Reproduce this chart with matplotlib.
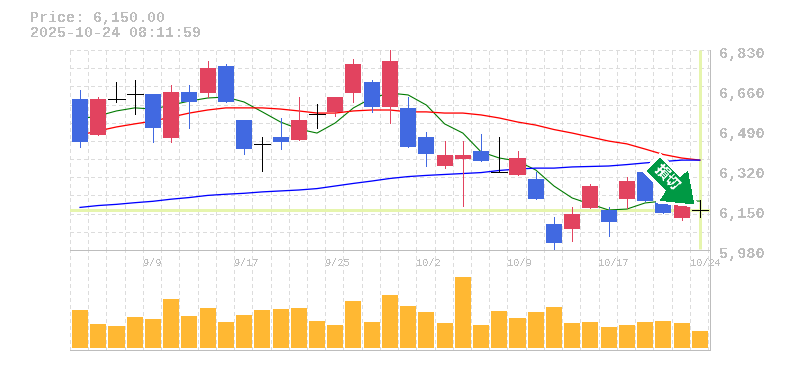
import matplotlib
matplotlib.use('Agg')
import matplotlib.pyplot as plt
from matplotlib.patches import Polygon
from matplotlib.transforms import Affine2D
import numpy as np

W, H = 785, 370

opens = [6622, 6469, 6620, 6642, 6643, 6456, 6651, 6647, 6762, 6532, 6429, 6460, 6447, 6559, 6567, 6647, 6694, 6588,
         6584, 6460, 6337, 6367, 6401, 6311, 6299, 6282, 6090, 6069, 6159, 6150, 6197, 6311, 6184, 6116, 6150]
highs = [6660, 6630, 6694, 6703, 6643, 6681, 6681, 6783, 6770, 6532, 6460, 6541, 6630, 6601, 6630, 6792, 6703, 6830,
         6630, 6481, 6443, 6443, 6473, 6460, 6401, 6311, 6120, 6163, 6260, 6163, 6290, 6311, 6184, 6171, 6192]
lows = [6418, 6469, 6609, 6558, 6439, 6439, 6498, 6630, 6609, 6388, 6316, 6409, 6447, 6498, 6550, 6609, 6567, 6520,
        6418, 6337, 6328, 6167, 6358, 6311, 6299, 6197, 5980, 6018, 6159, 6040, 6159, 6188, 6137, 6107, 6120]
closes = [6439, 6622, 6620, 6642, 6498, 6651, 6609, 6753, 6609, 6409, 6429, 6439, 6532, 6559, 6630, 6770, 6588, 6783,
          6418, 6388, 6384, 6384, 6358, 6311, 6371, 6197, 6010, 6133, 6252, 6099, 6273, 6188, 6137, 6171, 6150]

ma_short = [6537, 6550, 6571, 6584, 6579, 6596, 6613, 6626, 6630, 6609, 6567, 6524, 6494, 6477, 6520, 6584, 6626, 6647,
            6639, 6596, 6516, 6477, 6397, 6371, 6358, 6320, 6252, 6201, 6175, 6150, 6154, 6180, 6188, 6188, 6188]
ma_mid = [6469, 6486, 6503, 6516, 6528, 6545, 6562, 6575, 6584, 6584, 6584, 6579, 6571, 6562, 6562, 6571, 6575, 6575,
          6567, 6567, 6562, 6562, 6554, 6541, 6524, 6511, 6492, 6477, 6460, 6443, 6431, 6409, 6386, 6371, 6362]
ma_long = [6161, 6169, 6174, 6181, 6187, 6196, 6203, 6212, 6217, 6221, 6227, 6231, 6235, 6241, 6252, 6263, 6273, 6284,
           6292, 6297, 6301, 6305, 6309, 6318, 6324, 6328, 6328, 6333, 6335, 6337, 6343, 6350, 6356, 6362, 6362]
volumes = [38, 24, 22, 31, 29, 49, 32, 40, 26, 33, 38, 39, 40, 27, 23, 47, 26, 53,
           42, 36, 25, 71, 23, 37, 30, 36, 41, 25, 26, 21, 23, 26, 27, 25, 17]

price_ticks = [6830, 6660, 6490, 6320, 6150, 5980]
date_idx = [4, 9, 14, 19, 24, 29, 34]
date_labels = ['9/9', '9/17', '9/25', '10/2', '10/9', '10/17', '10/24']
last_price = 6150
arrow_text = '損切'

RED = '#e2435f'
BLUE = '#4169e1'
GRID = '#dcdcdc'
BORDER = '#bdbdbd'
TEXT = '#bdbdbd'
MARK = '#e6f5ad'
DASH = (0, (3, 3))
PX = 0.72

plt.rcParams['font.family'] = ['Liberation Mono', 'DejaVu Sans Mono']
plt.rcParams['text.antialiased'] = False
plt.rcParams['lines.antialiased'] = False
plt.rcParams['patch.antialiased'] = False


def pixel_axes(fig, left, top, right, bottom):
    return fig.add_axes([left / W, 1 - bottom / H, (right - left) / W, (bottom - top) / H])


def style_axes(ax):
    ax.set_xlim(-0.5, 34.61)
    ax.set_xticks(np.arange(36) - 0.5)
    ax.tick_params(length=0, labelbottom=False, labelleft=False)
    ax.grid(True, color=GRID, lw=PX, linestyle=DASH)
    ax.set_axisbelow(True)
    for side in ['left', 'top']:
        ax.spines[side].set_visible(False)
    for side in ['right', 'bottom']:
        ax.spines[side].set_color(BORDER)
        ax.spines[side].set_linewidth(PX)


fig = plt.figure(figsize=(W / 100, H / 100), dpi=100, facecolor='white')
ax = pixel_axes(fig, 70, 50, 710, 250)
vol = pixel_axes(fig, 70, 250, 710, 350)
style_axes(ax)
style_axes(vol)

# price panel
ax.set_ylim(5980, 6830)
ax.set_yticks(np.linspace(5980, 6830, 12))
x = np.arange(len(closes)) + 0.05
ax.axhline(last_price, color=MARK, lw=PX * 3, zorder=1.5, antialiased=True)
ax.plot([x[-1], x[-1]], [5985, 6830], color=MARK, lw=PX * 3, zorder=1.5, solid_capstyle='butt', antialiased=True)

# aliased lines come out too heavy here, so these three stay smooth
ax.plot(x, ma_short, color='#007a00', lw=PX * 1.1, zorder=2, antialiased=True)
ax.plot(x, ma_mid, color='#ff0000', lw=PX * 1.3, zorder=2, antialiased=True)
ax.plot(x, ma_long, color='#0000ff', lw=PX * 1.3, zorder=2, antialiased=True)

for i in range(len(closes)):
    o, h, l, c = opens[i], highs[i], lows[i], closes[i]
    if o == c:
        col = 'black'
        ax.hlines(c, x[i] - 0.44, x[i] + 0.44, color=col, lw=PX, zorder=3)
    else:
        col = RED if c > o else BLUE
        ax.bar(x[i], abs(c - o), bottom=min(o, c), width=0.88, color=col, linewidth=0, zorder=3)
    ax.vlines(x[i], l, h, color=col, lw=PX, zorder=3)

for p in price_ticks:
    ax.annotate(f'{p:,}', xy=(1, p), xycoords=('axes fraction', 'data'), xytext=(9, -4), textcoords='offset pixels',
                ha='left', va='center', color=TEXT, fontsize=11, fontweight='bold', annotation_clip=False)

# volume panel
vol.set_ylim(-2, 98)
vol.set_yticks([])
vol.bar(x, volumes, width=0.88, color='#ffb833', linewidth=0, zorder=3)
vol.spines['top'].set_visible(True)
vol.spines['top'].set_color(BORDER)
vol.spines['top'].set_linewidth(PX)
for i, label in zip(date_idx, date_labels):
    vol.annotate(label, xy=(i - 0.5, 1), xycoords=('data', 'axes fraction'), xytext=(0, -13), textcoords='offset pixels',
                 ha='left', va='center', color=TEXT, fontsize=7.4, annotation_clip=False, zorder=5)

# header
fig.text(30 / W, 1 - 18 / H, 'Price: 6,150.00', color=TEXT, fontsize=10.8, fontweight='bold', ha='left', va='center')
fig.text(30 / W, 1 - 33 / H, '2025-10-24 08:11:59', color=TEXT, fontsize=10.8, fontweight='bold', ha='left', va='center')

# badge arrow, placed in picture pixels
to_fig = Affine2D().scale(1, -1).translate(0, H)
badge = [(660, 155), (644, 171), (664, 191), (657, 202), (696, 206), (689, 168), (680, 175)]
fig.add_artist(Polygon(badge, closed=True, facecolor='#009944', edgecolor='white', lw=1.2, transform=to_fig, zorder=6))
fig.text(667 / W, 1 - 177 / H, arrow_text, rotation=-45, rotation_mode='anchor', color='white', fontsize=10.5,
         fontweight='bold', ha='center', va='center', family=['Noto Sans CJK JP', 'DejaVu Sans'], zorder=7)

fig.savefig('out.png', dpi=100, facecolor='white')
